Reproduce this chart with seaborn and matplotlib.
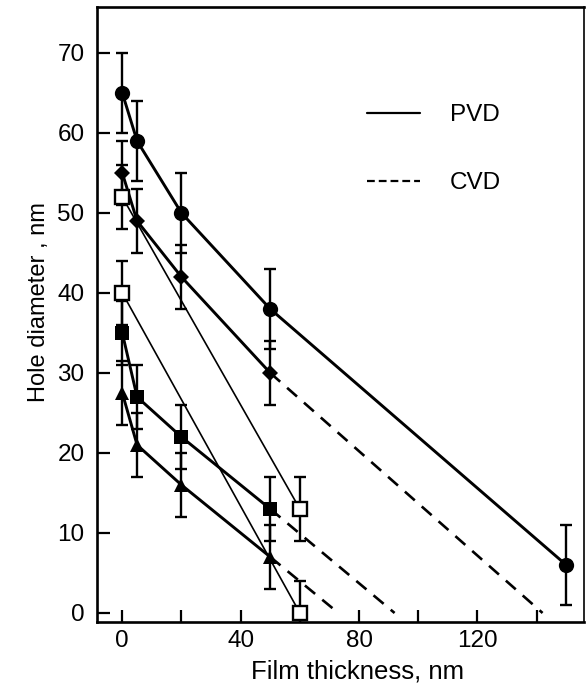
import matplotlib
matplotlib.use("Agg")
import numpy as np
import pandas as pd
import matplotlib.pyplot as plt
import seaborn as sns
from matplotlib.lines import Line2D
from matplotlib.ticker import FixedLocator

# ---------------- data ----------------
circle_x = [0, 5, 20, 50, 150]
circle_y = [65, 59, 50, 38, 6]
circle_err = [5, 5, 5, 5, 5]

pvd_x = [0, 5, 20, 50]
diamond_y = [55, 49, 42, 30]
diamond_err = [4, 4, 4, 4]
fsquare_y = [35, 27, 22, 13]
fsquare_err = [4, 4, 4, 4]
triangle_y = [27.5, 21, 16, 7]
triangle_err = [4, 4, 4, 4]

open_x = [0, 60]
open_a_y = [52, 13]
open_b_y = [40, 0]
open_err = [4, 4]

# CVD dashed extrapolations (start -> end at zero diameter)
cvd_start_x = [50, 50, 50]
cvd_start_y = [30, 13, 7]
cvd_end_x = [142, 92, 73]
cvd_end_y = [0, 0, 0]

x_major = [0, 40, 80, 120]
x_minor = [20, 60, 100, 140]
y_ticks = [0, 10, 20, 30, 40, 50, 60, 70]
legend_labels = ["PVD", "CVD"]

# ---------------- style ----------------
sns.set_theme(style="ticks")
plt.rcParams["font.family"] = ["Liberation Sans", "DejaVu Sans"]
plt.rcParams["text.color"] = "black"
plt.rcParams["axes.labelcolor"] = "black"
plt.rcParams["xtick.color"] = "black"
plt.rcParams["ytick.color"] = "black"

W, H = 586, 685
fig = plt.figure(figsize=(W / 100, H / 100), dpi=100)
left, right, top, bottom = 97, 584, 7, 621.7
ax = fig.add_axes([left / W, 1 - bottom / H, (right - left) / W, (bottom - top) / H])
ax.set_facecolor("white")
fig.patch.set_facecolor("white")

K = "black"
DASH = (0, (5, 3.5))
err_kw = dict(fmt="none", ecolor=K, elinewidth=1.7, capsize=4.6, capthick=1.7, zorder=2)

# error bars
ax.errorbar(circle_x, circle_y, yerr=circle_err, **err_kw)
ax.errorbar(pvd_x, diamond_y, yerr=diamond_err, **err_kw)
ax.errorbar(pvd_x, fsquare_y, yerr=fsquare_err, **err_kw)
ax.errorbar(pvd_x, triangle_y, yerr=triangle_err, **err_kw)
ax.errorbar(open_x, open_a_y, yerr=open_err, **err_kw)
ax.errorbar(open_x, open_b_y, yerr=open_err, **err_kw)

# CVD dashed extrapolations
cvd_df = pd.DataFrame({
    "x": cvd_start_x + cvd_end_x,
    "y": cvd_start_y + cvd_end_y,
    "seg": list(range(len(cvd_start_x))) * 2,
})
sns.lineplot(data=cvd_df, x="x", y="y", units="seg", estimator=None, color=K,
             lw=1.9, linestyle=DASH, ax=ax, zorder=2.5, legend=False)

# PVD solid lines with markers
common = dict(estimator=None, sort=False, color=K, ax=ax, legend=False)
sns.lineplot(x=circle_x, y=circle_y, lw=2.1, marker="o", markersize=11,
             markeredgewidth=0, markeredgecolor=K, zorder=3, **common)
sns.lineplot(x=pvd_x, y=diamond_y, lw=2.1, marker="D", markersize=8.3,
             markeredgewidth=0, markeredgecolor=K, zorder=3, **common)
sns.lineplot(x=pvd_x, y=fsquare_y, lw=2.1, marker="s", markersize=9.8,
             markeredgewidth=0, markeredgecolor=K, zorder=3, **common)
sns.lineplot(x=pvd_x, y=triangle_y, lw=2.1, marker="^", markersize=10.5,
             markeredgewidth=0, markeredgecolor=K, zorder=3, **common)
sns.lineplot(x=open_x, y=open_a_y, lw=1.2, marker="s", markersize=9.5,
             markerfacecolor="white", markeredgewidth=1.7, markeredgecolor=K,
             zorder=3, **common)
sns.lineplot(x=open_x, y=open_b_y, lw=1.2, marker="s", markersize=9.5,
             markerfacecolor="white", markeredgewidth=1.7, markeredgecolor=K,
             zorder=3, **common)

# ---------------- axes ----------------
ax.set_xlim(-8.55, 156.0)
ax.set_ylim(-1.09, 75.75)
ax.xaxis.set_major_locator(FixedLocator(x_major))
ax.xaxis.set_minor_locator(FixedLocator(x_minor))
ax.set_xticklabels([str(v) for v in x_major])
ax.set_yticks(y_ticks)
ax.set_yticklabels([str(v) for v in y_ticks])
ax.tick_params(axis="both", which="both", direction="in", length=9, width=1.6,
               color=K, labelcolor=K, labelsize=17.5)
ax.tick_params(axis="x", which="both", pad=6, top=False, bottom=True)
ax.tick_params(axis="y", which="both", pad=9, left=True, right=False)

for side in ["left", "bottom", "top"]:
    ax.spines[side].set_linewidth(1.9)
    ax.spines[side].set_color(K)
    ax.spines[side].set_visible(True)
ax.spines["right"].set_visible(True)
ax.spines["right"].set_linewidth(1.2)
ax.spines["right"].set_color(K)
ax.grid(False)

ax.set_xlabel("Film thickness, nm", fontsize=18.5, color=K)
ax.set_ylabel("Hole diameter , nm", fontsize=17, color=K)
ax.xaxis.set_label_coords((358 - left) / (right - left), (bottom - 660) / (bottom - top))
ax.yaxis.set_label_coords((50 - left) / (right - left), (bottom - 302) / (bottom - top))

# legend
handles = [Line2D([], [], color=K, lw=1.6),
           Line2D([], [], color=K, lw=1.6, linestyle=(0, (3.5, 1.8)))]
leg = ax.legend(handles, legend_labels, loc="upper left",
                bbox_to_anchor=((367 - left) / (right - left), (bottom - 104) / (bottom - top)),
                frameon=False, fontsize=17.5, handlelength=2.2, handletextpad=1.2,
                labelspacing=1.9, borderaxespad=0, borderpad=0)
for t in leg.get_texts():
    t.set_color(K)

fig.savefig("out.png", dpi=100, facecolor="white")
